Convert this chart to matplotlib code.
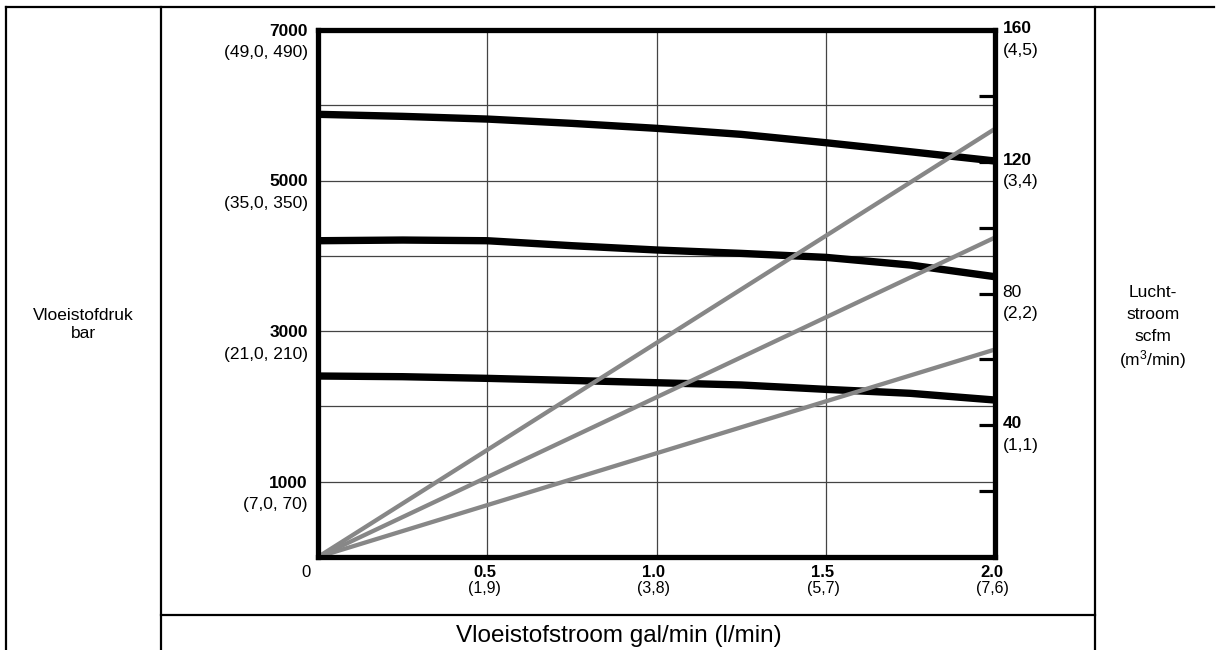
import matplotlib
matplotlib.use('Agg')
import matplotlib.pyplot as plt
from matplotlib.lines import Line2D
import matplotlib.transforms as mtransforms

plt.rcParams['font.family'] = ['Liberation Sans', 'DejaVu Sans']
plt.rcParams['mathtext.fontset'] = 'custom'
plt.rcParams['mathtext.rm'] = 'Liberation Sans'
plt.rcParams['mathtext.default'] = 'regular'

# ---- data ----
flow_gpm = [0.0, 0.25, 0.5, 0.75, 1.0, 1.25, 1.5, 1.75, 2.0]
pressure_high = [5880, 5853, 5817, 5760, 5694, 5614, 5503, 5383, 5260]
pressure_mid = [4201, 4210, 4201, 4135, 4078, 4033, 3980, 3878, 3723]
pressure_low = [2404, 2395, 2373, 2345, 2315, 2285, 2227, 2174, 2085]

air_flow_x = [0.0, 2.0]
air_high = [0, 130]
air_mid = [0, 97]
air_low = [0, 63]

psi_ticks = [1000, 3000, 5000, 7000]
psi_sub = ['(7,0, 70)', '(21,0, 210)', '(35,0, 350)', '(49,0, 490)']
gpm_ticks = [0.5, 1.0, 1.5, 2.0]
gpm_labels = ['0.5', '1.0', '1.5', '2.0']
lpm_labels = ['(1,9)', '(3,8)', '(5,7)', '(7,6)']
scfm_ticks = [40, 80, 120, 160]
scfm_sub = ['(1,1)', '(2,2)', '(3,4)', '(4,5)']
scfm_bold = [True, False, True, True]

left_title = 'Vloeistofdruk\nbar'
right_title_lines = ['Lucht-', 'stroom', 'scfm', '(m$^3$/min)']
bottom_title = 'Vloeistofstroom gal/min (l/min)'

W, H = 1216, 650
fig = plt.figure(figsize=(W / 100, H / 100), dpi=100)

# axes: left spine x=318, right x=995, top y=30, bottom y=557 (pixels)
ax = fig.add_axes([318 / W, (H - 557) / H, (995 - 318) / W, (557 - 30) / H])
ax.set_xlim(0, 2.0)
ax.set_ylim(0, 7000)
ax.set_xticks([0.5, 1.0, 1.5])
ax.set_yticks(range(1000, 7000, 1000))
ax.tick_params(length=0, labelleft=False, labelbottom=False)
ax.grid(True, color='#444444', lw=0.9)
for s in ax.spines.values():
    s.set_linewidth(3.7)
    s.set_color('black')

for series in (pressure_high, pressure_mid, pressure_low):
    ax.plot(flow_gpm, series, color='black', lw=5.3, solid_capstyle='butt',
            solid_joinstyle='round', zorder=3)

ax2 = ax.twinx()
ax2.set_ylim(0, 160)
ax2.set_yticks(range(0, 161, 20))
ax2.tick_params(axis='y', direction='in', length=11.5, width=2.3,
                right=True, labelright=False, color='black')
for s in ax2.spines.values():
    s.set_linewidth(3.7)
    s.set_color('black')
for series in (air_high, air_mid, air_low):
    ax2.plot(air_flow_x, series, color='#878787', lw=3.1, solid_capstyle='butt',
             zorder=2)

# left labels
tl = mtransforms.blended_transform_factory(ax.transAxes, ax.transData)
for v, sub in zip(psi_ticks, psi_sub):
    ax.annotate(str(v), (-0.0148, v), xycoords=tl, xytext=(0, -1),
                textcoords='offset points', ha='right', va='center',
                fontsize=12.5, fontweight='bold', annotation_clip=False)
    ax.annotate(sub, (-0.0148, v), xycoords=tl, xytext=(0, -16.5),
                textcoords='offset points', ha='right', va='center',
                fontsize=12.5, annotation_clip=False)

# bottom labels
tb = mtransforms.blended_transform_factory(ax.transData, ax.transAxes)
for v, lab, sub in zip(gpm_ticks, gpm_labels, lpm_labels):
    ax.annotate(lab, (v, 0), xycoords=tb, xytext=(-2, -11.5),
                textcoords='offset points', ha='center', va='center',
                fontsize=12, fontweight='bold', annotation_clip=False)
    ax.annotate(sub, (v, 0), xycoords=tb, xytext=(-2, -22.5),
                textcoords='offset points', ha='center', va='center',
                fontsize=11.5, annotation_clip=False)
ax.annotate('0', (0, 0), xycoords=tb, xytext=(-8.6, -11.5),
            textcoords='offset points', ha='center', va='center',
            fontsize=12, annotation_clip=False)

# right labels
tr = mtransforms.blended_transform_factory(ax2.transAxes, ax2.transData)
for v, sub, b in zip(scfm_ticks, scfm_sub, scfm_bold):
    ax2.annotate(str(v), (1.011, v), xycoords=tr, xytext=(0, 1),
                 textcoords='offset points', ha='left', va='center',
                 fontsize=12.5, fontweight='bold' if b else 'normal',
                 annotation_clip=False)
    ax2.annotate(sub, (1.011, v), xycoords=tr, xytext=(0, -14.5),
                 textcoords='offset points', ha='left', va='center',
                 fontsize=12.5, annotation_clip=False)

# table frame
def px_line(x0, y0, x1, y1):
    fig.add_artist(Line2D([x0 / W, x1 / W], [1 - y0 / H, 1 - y1 / H],
                          transform=fig.transFigure, color='black', lw=1.6))

px_line(6, 7, 1214, 7)
px_line(6, 7, 6, 650)
px_line(161, 7, 161, 650)
px_line(1095, 7, 1095, 650)
px_line(161, 615, 1095, 615)

fig.text(83 / W, 1 - 324 / H, left_title, ha='center', va='center',
         fontsize=12.5, linespacing=1.25)
for i, line in enumerate(right_title_lines):
    fig.text(1153 / W, 1 - (291 + 22 * i) / H, line, ha='center',
             va='center_baseline', fontsize=12.5)
fig.text(619 / W, 1 - 636 / H, bottom_title, ha='center', va='center',
         fontsize=17.5)

fig.savefig('out.png', dpi=100, facecolor='white')
